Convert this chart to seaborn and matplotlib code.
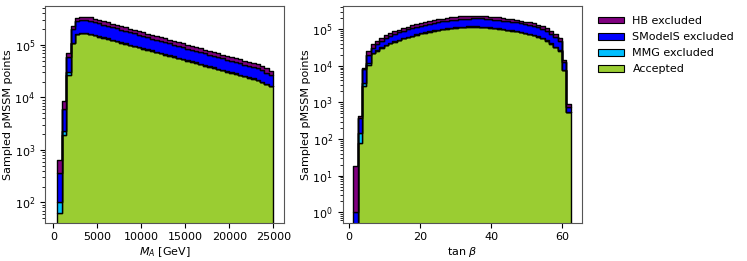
import numpy as np
import pandas as pd
import matplotlib
matplotlib.use("Agg")
import matplotlib.pyplot as plt
from matplotlib.patches import Patch
import seaborn as sns

# ---------------- data ----------------
categories = ["HB excluded", "SModelS excluded", "MMG excluded", "Accepted"]
colors = ["#800080", "#0000ff", "#00bfff", "#9acd32"]

# M_A histogram: 49 bins between these limits (GeV)
ma_min, ma_max, ma_nbins = 450, 25000, 49
ma_accepted = [62, 1920, 26900, 108000, 160000, 167000, 166000, 160000, 152000, 144000,
               137000, 130000, 123000, 117000, 111000, 105000, 99500, 94500, 89500, 85000,
               80500, 76500, 72500, 69000, 65500, 62000, 58800, 55800, 53000, 50200,
               47600, 45200, 42800, 40600, 38500, 36500, 34600, 32800, 31100, 29500,
               28000, 26500, 25100, 23800, 22500, 21300, 19500, 17800, 16200]
ma_mmg = [41, 370, 4100, 2800, 4000, 4200, 4200, 4000, 3800, 3600,
          3400, 3250, 3100, 2950, 2800, 2650, 2500, 2400, 2250, 2150,
          2050, 1950, 1850, 1750, 1650, 1570, 1490, 1410, 1340, 1270,
          1200, 1140, 1080, 1030, 970, 920, 870, 830, 790, 750,
          710, 670, 640, 600, 570, 540, 500, 460, 420]
ma_smodels = [264, 3670, 27500, 90000, 122000, 128000, 127000, 125000, 118000, 111000,
              105000, 99000, 93000, 88000, 83000, 77700, 73100, 69000, 64900, 61200,
              57600, 54300, 51100, 48300, 45900, 43100, 40600, 38500, 36300, 34100,
              32400, 30500, 28900, 27200, 25800, 24300, 23000, 21600, 20500, 19500,
              18300, 17400, 16400, 15500, 14600, 13800, 12700, 11600, 10500]
ma_hb = [274, 2750, 13100, 32000, 46000, 47000, 47000, 46400, 44300, 42100,
         40200, 38200, 36300, 34600, 32900, 31200, 29700, 28300, 26800, 25500,
         24300, 23100, 22000, 21000, 19900, 18900, 18000, 17100, 16300, 15500,
         14700, 14000, 13300, 12700, 12100, 11500, 10900, 10400, 9900, 9400,
         9000, 8500, 8100, 7700, 7300, 6900, 6400, 5900, 5400]

# tan beta histogram: 50 bins between these limits
tb_min, tb_max, tb_nbins = 1.2, 62.3, 50
tb_accepted = [0, 77, 2880, 10600, 22000, 26000, 31000, 37000, 41000, 46000,
               51000, 56000, 61000, 66000, 71000, 77000, 81500, 86000, 91000, 95500,
               100000, 104000, 107500, 111000, 113500, 115500, 117000, 117500, 117500, 116500,
               114500, 111500, 108000, 104000, 100000, 96000, 92000, 88000, 83000, 78000,
               73000, 68000, 62500, 56000, 49000, 40500, 33000, 26000, 7500, 540]
tb_mmg = [0, 73, 590, 1100, 600, 650, 750, 850, 950, 1050,
          1150, 1250, 1350, 1450, 1550, 1650, 1750, 1850, 1950, 2000,
          2100, 2150, 2200, 2250, 2300, 2350, 2350, 2350, 2350, 2350,
          2300, 2250, 2200, 2100, 2000, 1950, 1850, 1750, 1650, 1550,
          1450, 1350, 1250, 1100, 1000, 800, 650, 500, 150, 10]
tb_smodels = [1, 220, 4600, 8200, 8000, 13000, 16100, 20300, 23400, 26700,
              30100, 33600, 36600, 40300, 43300, 47700, 50500, 53300, 57300, 60200,
              63000, 66600, 68800, 71000, 73800, 75100, 76100, 77600, 77600, 78100,
              76700, 75800, 74500, 72800, 71000, 69100, 67200, 65100, 63100, 60100,
              57700, 54400, 51300, 47000, 41700, 34800, 28700, 22100, 5000, 217]
tb_hb = [17, 57, 530, 5600, 10000, 8500, 10000, 12000, 13000, 14500,
         16000, 17500, 19000, 20500, 22000, 23500, 25000, 26500, 28000, 29500,
         30500, 31500, 32500, 33500, 34000, 34500, 35000, 35000, 35000, 34500,
         34000, 33000, 32000, 31000, 30000, 29000, 27500, 26000, 24500, 23000,
         21500, 20000, 18500, 17000, 15000, 12500, 10000, 8500, 1500, 160]


def long_table(edges, series):
    centers = 0.5 * (edges[:-1] + edges[1:])
    frames = []
    for cat, vals in zip(categories, series):
        frames.append(pd.DataFrame({"x": centers, "w": np.asarray(vals, float), "cat": cat}))
    return pd.concat(frames, ignore_index=True)


ma_edges = np.linspace(ma_min, ma_max, ma_nbins + 1)
tb_edges = np.linspace(tb_min, tb_max, tb_nbins + 1)
df_ma = long_table(ma_edges, [ma_hb, ma_smodels, ma_mmg, ma_accepted])
df_tb = long_table(tb_edges, [tb_hb, tb_smodels, tb_mmg, tb_accepted])

palette = dict(zip(categories, colors))

plt.rcParams["font.family"] = ["DejaVu Sans"]
plt.rcParams["font.size"] = 8
plt.rcParams["xtick.labelsize"] = 8
plt.rcParams["ytick.labelsize"] = 8
plt.rcParams["axes.edgecolor"] = "#555555"

fig = plt.figure(figsize=(7.47, 2.61), dpi=100)
W, H = 747, 261
ax1 = fig.add_axes([45 / W, 1 - 222.7 / H, 239 / W, 217 / H])
ax2 = fig.add_axes([342.7 / W, 1 - 222.7 / H, 239 / W, 217 / H])

for ax, df, edges in [(ax1, df_ma, ma_edges), (ax2, df_tb, tb_edges)]:
    sns.histplot(data=df, x="x", weights="w", hue="cat", hue_order=categories,
                 palette=palette, bins=[float(e) for e in edges], multiple="stack",
                 element="step", fill=True, alpha=1, edgecolor="black", linewidth=1.0,
                 legend=False, ax=ax)
    ax.set_yscale("log")
    ax.set_ylabel("Sampled pMSSM points", labelpad=1)

ax1.set_xlim(-950, 26220)
ax1.set_ylim(41, 5.6e5)
ax1.set_xticks([0, 5000, 10000, 15000, 20000, 25000])
ax1.set_xlabel(r"$M_A$ [GeV]", labelpad=2)

ax2.set_xlim(-1.8, 65.4)
ax2.set_ylim(0.52, 4.4e5)
ax2.set_xticks([0, 20, 40, 60])
ax2.set_xlabel(r"tan $\beta$", labelpad=2)

handles = [Patch(facecolor=c, edgecolor="black", linewidth=0.8) for c in colors]
fig.legend(handles, categories, loc="upper left", bbox_to_anchor=(588 / W, 1 - 6 / H),
           frameon=False, fontsize=8, handlelength=2.3, handleheight=0.55,
           labelspacing=0.55, handletextpad=0.8)

fig.savefig("out.png", dpi=100)
